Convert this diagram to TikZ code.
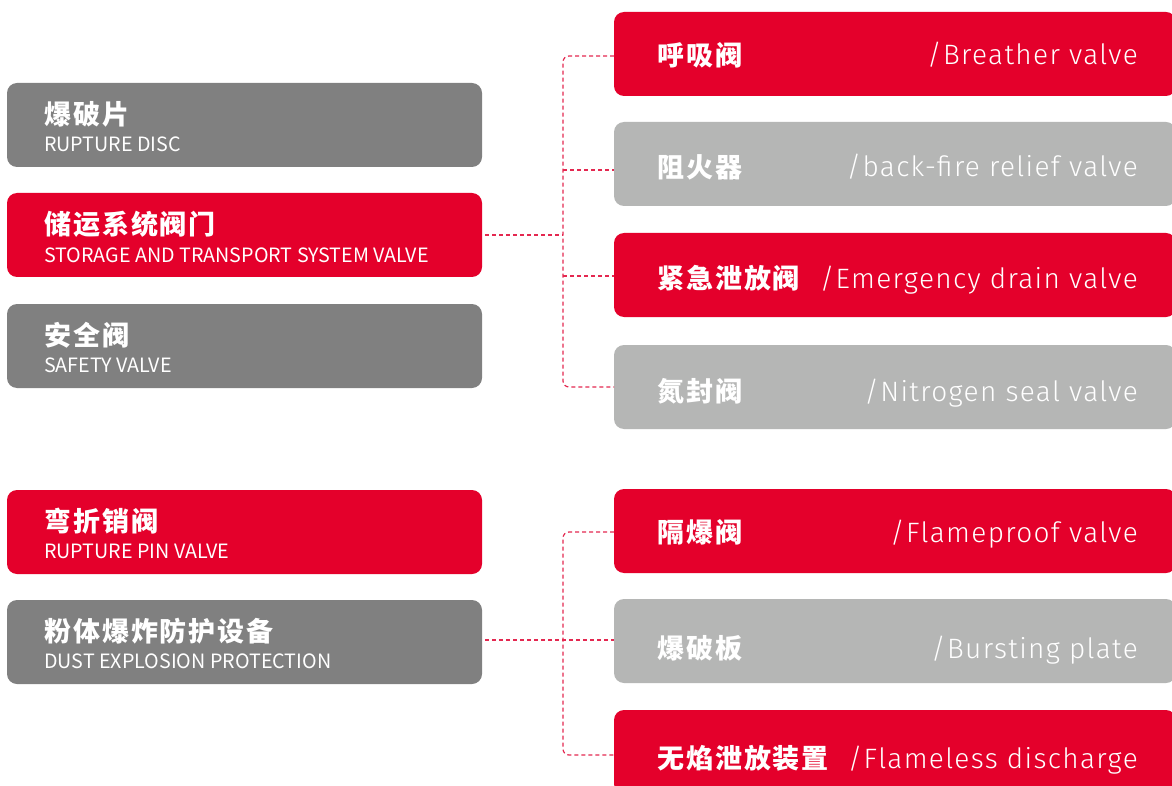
\documentclass[tikz,border=0pt]{standalone}
\usepackage{fontspec}
\newfontfamily\cjk{Noto Sans CJK SC}
\newfontfamily\cjkt{Noto Sans CJK SC}[LetterSpace=7.2]
\newfontfamily\lt{Fira Sans Light}[LetterSpace=4.8]
\definecolor{cred}{RGB}{228,0,43}
\definecolor{cdark}{RGB}{128,128,128}
\definecolor{clight}{RGB}{181,182,181}
\definecolor{cline}{RGB}{228,40,80}
\tikzset{
  lbox/.style={rounded corners=10pt, minimum width=475pt, minimum height=84pt, anchor=north west, inner sep=0pt, outer sep=0pt},
  rbox/.style={rounded corners=10pt, minimum width=562pt, minimum height=84pt, anchor=north west, inner sep=0pt, outer sep=0pt},
  ltitle/.style={anchor=base west, inner sep=0pt, text=white, font=\cjkt\bfseries\fontsize{27}{30}\selectfont},
  lsub/.style={anchor=base west, inner sep=0pt, text=white, font=\cjk\fontsize{19.7}{23}\selectfont},
  rtitle/.style={anchor=base west, inner sep=0pt, text=white, font=\cjkt\bfseries\fontsize{27}{30}\selectfont},
  rsub/.style={anchor=base east, inner sep=0pt, text=white, font=\lt\fontsize{28}{33}\selectfont},
  conn/.style={draw=cline, line width=1.2pt, dash pattern=on 4pt off 3pt}
}
\begin{document}
\begin{tikzpicture}[x=1pt,y=-1pt]
\useasboundingbox[fill=white] (0,0) rectangle (1172,786);
% left boxes
\node[lbox, fill=cdark] (L1) at (7,83) {};
\node[lbox, fill=cred]  (L2) at (7,193) {};
\node[lbox, fill=cdark] (L3) at (7,304) {};
\node[lbox, fill=cred]  (L4) at (7,490) {};
\node[lbox, fill=cdark] (L5) at (7,600) {};
\node[ltitle] (L1t) at (44,124.5) {爆破片};
\node[lsub]   (L1s) at (44,151.5) {RUPTURE DISC};
\node[ltitle] (L2t) at (44,234.5) {储运系统阀门};
\node[lsub]   (L2s) at (44,262) {STORAGE AND TRANSPORT SYSTEM VALVE};
\node[ltitle] (L3t) at (44,345.5) {安全阀};
\node[lsub]   (L3s) at (44,372.5) {SAFETY VALVE};
\node[ltitle] (L4t) at (44,531.5) {弯折销阀};
\node[lsub]   (L4s) at (44,558.5) {RUPTURE PIN VALVE};
\node[ltitle] (L5t) at (44,641.5) {粉体爆炸防护设备};
\node[lsub]   (L5s) at (44,668.5) {DUST EXPLOSION PROTECTION};
% right boxes
\node[rbox, fill=cred]   (R1) at (614,12) {};
\node[rbox, fill=clight] (R2) at (614,122) {};
\node[rbox, fill=cred]   (R3) at (614,233) {};
\node[rbox, fill=clight] (R4) at (614,345) {};
\node[rbox, fill=cred]   (R5) at (614,489) {};
\node[rbox, fill=clight] (R6) at (614,599) {};
\node[rbox, fill=cred]   (R7) at (614,710) {};
\node[rtitle] (R1t) at (657,65.5) {呼吸阀};
\node[rsub]   (R1s) at (1138,65) {/Breather valve};
\node[rtitle] (R2t) at (657,177.5) {阻火器};
\node[rsub]   (R2s) at (1138,177) {/back-fire relief valve};
\node[rtitle] (R3t) at (657,288.5) {紧急泄放阀};
\node[rsub]   (R3s) at (1138,288) {/Emergency drain valve};
\node[rtitle] (R4t) at (657,401.5) {氮封阀};
\node[rsub]   (R4s) at (1138,401) {/Nitrogen seal valve};
\node[rtitle] (R5t) at (657,542.5) {隔爆阀};
\node[rsub]   (R5s) at (1138,542) {/Flameproof valve};
\node[rtitle] (R6t) at (657,658.5) {爆破板};
\node[rsub]   (R6s) at (1138,658) {/Bursting plate};
\node[rtitle] (R7t) at (657,768.5) {无焰泄放装置};
\node[rsub]   (R7s) at (1138,768) {/Flameless discharge};
% junctions
\coordinate (jt1) at (563,56);
\coordinate (jt2) at (563,170);
\coordinate (jtL) at (563,235);
\coordinate (jt3) at (563,276);
\coordinate (jt4) at (563,387);
\coordinate (jb1) at (563,532);
\coordinate (jbL) at (563,640);
\coordinate (jb3) at (563,755);
% connectors top
\draw[conn, rounded corners=6pt] (R1.west |- jt1) -- (jt1) -- (jt4) -- (R4.west |- jt4);
\draw[conn] (jt2) -- (R2.west |- jt2);
\draw[conn] (jt3) -- (R3.west |- jt3);
\draw[conn] ([xshift=3pt]L2.east) -- (jtL);
% connectors bottom
\draw[conn, rounded corners=6pt] (R5.west |- jb1) -- (jb1) -- (jb3) -- (R7.west |- jb3);
\draw[conn] ([xshift=3pt]L5.east |- jbL) -- (R6.west |- jbL);
\end{tikzpicture}
\end{document}
